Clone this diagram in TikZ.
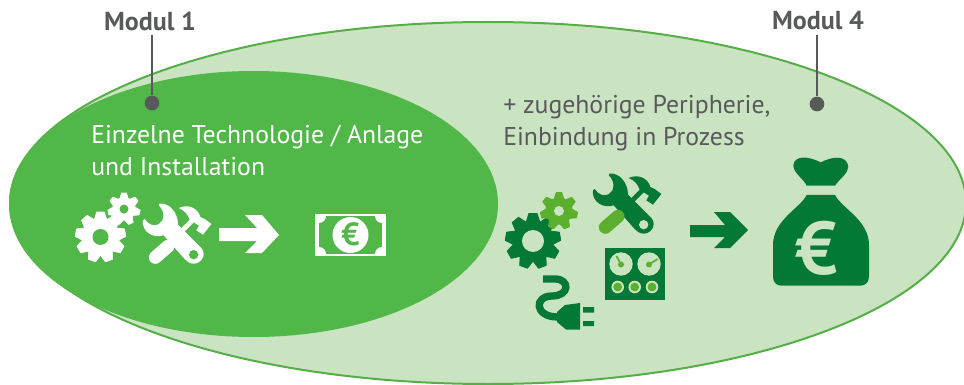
\documentclass[tikz,border=0pt]{standalone}
\usepackage{fontspec}
\setmainfont{PT Sans}
\definecolor{leafgreen}{HTML}{50B748}
\definecolor{palegreen}{HTML}{CAE4C2}
\definecolor{rimgreen}{HTML}{55AE47}
\definecolor{darkgreen}{HTML}{047835}
\definecolor{midgreen}{HTML}{5BAF2E}
\definecolor{textgray}{HTML}{58595B}
\tikzset{
  modullabel/.style={font=\bfseries\fontsize{19.5}{20}\selectfont, text=textgray, inner sep=0pt},
  bodytext/.style={font=\fontsize{19.3}{24}\selectfont, inner sep=0pt, align=left, anchor=north west},
  leader/.style={textgray, line width=1.6pt, shorten <=3pt},
  leaderdot/.style={circle, fill=textgray, inner sep=0pt, minimum size=11pt},
}
% gear: centre, outer radius, hole radius, teeth, colour, hole colour
\newcommand{\gearicon}[6]{
  \begin{scope}[shift={#1}]
    \fill[#5] (0,0) circle ({#2*.74});
    \foreach \i in {1,...,#4}{
      \fill[#5, rotate=180+\i*360/#4, line join=round, line width=.6pt, draw=#5]
        ({-#2*.25},{#2*.68}) -- ({-#2*.15},{#2}) -- ({#2*.15},{#2}) -- ({#2*.25},{#2*.68}) -- cycle;
    }
    \fill[#6] (0,0) circle (#3);
  \end{scope}
}
% wrench and hammer, drawn in thirds of a pixel
\newcommand{\toolicon}[5]{
  \begin{scope}[shift={#1}, scale=1/3, shift={(-310,-40)}]
    \fill[#2] (358,42) .. controls (390,38) and (415,70) .. (415,105) -- (485,175)
      .. controls (502,195) and (485,222) .. (462,222) .. controls (450,222) and (442,215) .. (435,208)
      -- (372,137) .. controls (340,148) and (305,125) .. (310,92) -- (315,88)
      .. controls (325,105) and (345,112) .. (358,103) .. controls (376,93) and (376,65) .. (358,48) -- cycle;
    \fill[#5] (462,195) circle (14);
    \draw[#3, line width=13pt*.75, line cap=round] (347,203) -- (385,170);
    \fill[#4] (417,55) .. controls (445,42) and (475,55) .. (482,82) -- (495,88) -- (515,103) -- (490,135)
      -- (470,122) -- (478,108) -- (462,98) -- (428,132) -- (418,122) -- (450,90) .. controls (445,75) and (435,62) .. (417,55) -- cycle;
  \end{scope}
}
\begin{document}
\begin{tikzpicture}[x=.75pt, y=-.75pt]
  \useasboundingbox (0,0) rectangle (964,385);

  % --- Ellipses ---
  \fill[palegreen] (488,203) ellipse [x radius=478, y radius=181];
  \draw[rimgreen, line width=1.5pt] (488,203) ellipse [x radius=478, y radius=181];
  \fill[leafgreen] (253.5,204) ellipse [x radius=244.5, y radius=133];

  % --- Labels and leaders ---
  \node[modullabel] (modul1) at (150,21) {Modul 1};
  \node[modullabel] (modul4) at (818,21) {Modul 4};
  \node[leaderdot] (dot1) at (152,103) {};
  \node[leaderdot] (dot4) at (817,104) {};
  \draw[leader] (modul1.south -| dot1) -- (dot1);
  \draw[leader] (modul4.south -| dot4) -- (dot4);

  \node[bodytext, text=white] (text1) at (91,124.5) {Einzelne Technologie / Anlage\\und Installation};
  \node[bodytext, text=textgray] (text4) at (503,95) {+ zugehörige Peripherie,\\Einbindung in Prozess};

  % --- Left icons ---
  \gearicon{(100.5,237)}{25}{8}{9}{white}{leafgreen}
  \gearicon{(124,209)}{16}{4.5}{7}{white}{leafgreen}
  \toolicon{(143,203)}{white}{white}{white}{leafgreen}
  \fill[white] (219,228) -- (257,228) -- (245,215) -- (262,215) -- (279,235) -- (262,253)
    -- (245,253) -- (257,241) -- (219,241) -- cycle;

  % --- Bill ---
  \fill[white] (315,214) rectangle (386,256);
  \begin{scope}
    \clip (319,216) rectangle (382,254);
    \fill[leafgreen] (319,216) rectangle (382,254);
    \fill[white] (319,216) circle (7) (382,216) circle (7) (319,254) circle (7) (382,254) circle (7);
  \end{scope}
  \fill[white] (350.5,235) circle (18);
  \node[font=\bfseries\fontsize{24}{24}\selectfont, text=leafgreen, inner sep=0pt] (billeuro) at (350.5,234) {€};

  % --- Right icons ---
  \gearicon{(533,241)}{27.5}{11}{9}{darkgreen}{palegreen}
  \gearicon{(559,211)}{18.5}{5}{7}{midgreen}{palegreen}
  \toolicon{(593,173)}{darkgreen}{midgreen}{darkgreen}{palegreen}

  \fill[darkgreen] (605,248) rectangle (665,300);
  \fill[palegreen] (621,264) circle (11.7) (649,264) circle (11.7);
  \fill[palegreen] (617.7,287) circle (6.3) (634.7,287) circle (6.3) (652,287) circle (6.3);
  \fill[midgreen] (617.7,287) circle (4.4) (634.7,287) circle (4.4) (652,287) circle (4.4);
  \fill[midgreen] (621,264.5) circle (3);
  \fill[midgreen] (649,264.5) circle (3);
  \draw[midgreen, line width=1.3pt] (621,264.5) -- (616.5,256);
  \draw[midgreen, line width=1.3pt] (649,264.5) -- (657.5,259);

  \draw[darkgreen, line width=5.5pt] (543,279) -- (555,279) .. controls (570,279) and (570,296) .. (552,296)
    .. controls (534,296) and (534,317) .. (558,317);
  \fill[darkgreen] (557,312) -- (565,305) -- (580,303) -- (580,329.5) -- (566,329.5) -- (557,322) -- cycle;
  \fill[darkgreen] (583,307) rectangle (594,312.7) (583,321) rectangle (594,326);

  \fill[darkgreen] (690,225) -- (725,225) -- (714,212) -- (730,212) -- (748,230) -- (730,248)
    -- (714,248) -- (725,237) -- (690,237) -- cycle;

  % --- Money bag ---
  \begin{scope}[shift={(680,0)}, scale=1/3]
    \fill[darkgreen] (340,495) .. controls (345,465) and (385,468) .. (422,487) .. controls (460,468) and (500,465) .. (505,500)
      .. controls (505,520) and (480,535) .. (465,557) -- (380,557) .. controls (370,535) and (340,520) .. (340,495) -- cycle;
    \fill[darkgreen] (380,585) -- (465,585) .. controls (485,625) and (567,660) .. (567,735) -- (567,830)
      .. controls (567,848) and (555,857) .. (540,857) -- (305,857) .. controls (290,857) and (279,848) .. (279,830)
      -- (279,735) .. controls (279,660) and (360,625) .. (380,585) -- cycle;
  \end{scope}
  \node[font=\bfseries\fontsize{56}{56}\selectfont, text=palegreen, inner sep=0pt] (bageuro) at (817,248) {€};
\end{tikzpicture}
\end{document}
